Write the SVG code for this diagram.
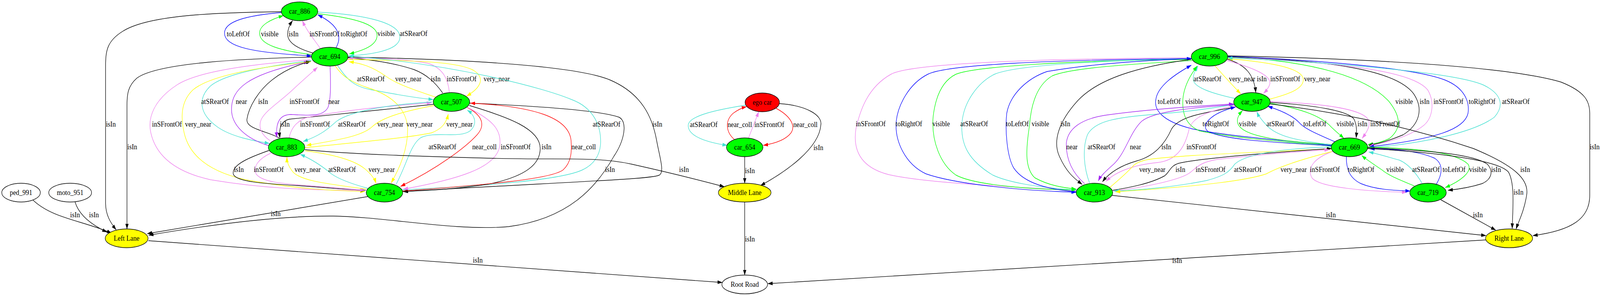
<svg xmlns="http://www.w3.org/2000/svg" width="4567" height="755" viewBox="0 0 4567 755">
<style>
text{font-family:"Liberation Serif","Times New Roman",serif;font-size:18.67px;text-anchor:middle;fill:#000}
ellipse{stroke:#000;stroke-width:1.4}
.e path{fill:none;stroke-width:1.4}
.k{stroke:#000;marker-end:url(#aK)}.b{stroke:#0000ff;marker-end:url(#aB)}.g{stroke:#00ff00;marker-end:url(#aG)}
.t{stroke:#40e0d0;marker-end:url(#aT)}.v{stroke:#ee82ee;marker-end:url(#aV)}.p{stroke:#a020f0;marker-end:url(#aP)}
.y{stroke:#ffff00;marker-end:url(#aY)}.r{stroke:#ff0000;marker-end:url(#aR)}
.car{fill:#00ff00}.lane{fill:#ffff00}.ego{fill:#ff0000}.plain{fill:#fff}
</style>
<defs>
<marker id="aK" viewBox="0 0 14 10" refX="13.5" refY="5" markerWidth="14" markerHeight="10" markerUnits="userSpaceOnUse" orient="auto"><path d="M0,0.3L14,5L0,9.7Z" fill="#000"/></marker>
<marker id="aB" viewBox="0 0 14 10" refX="13.5" refY="5" markerWidth="14" markerHeight="10" markerUnits="userSpaceOnUse" orient="auto"><path d="M0,0.3L14,5L0,9.7Z" fill="#0000ff"/></marker>
<marker id="aG" viewBox="0 0 14 10" refX="13.5" refY="5" markerWidth="14" markerHeight="10" markerUnits="userSpaceOnUse" orient="auto"><path d="M0,0.3L14,5L0,9.7Z" fill="#00ff00"/></marker>
<marker id="aT" viewBox="0 0 14 10" refX="13.5" refY="5" markerWidth="14" markerHeight="10" markerUnits="userSpaceOnUse" orient="auto"><path d="M0,0.3L14,5L0,9.7Z" fill="#40e0d0"/></marker>
<marker id="aV" viewBox="0 0 14 10" refX="13.5" refY="5" markerWidth="14" markerHeight="10" markerUnits="userSpaceOnUse" orient="auto"><path d="M0,0.3L14,5L0,9.7Z" fill="#ee82ee"/></marker>
<marker id="aP" viewBox="0 0 14 10" refX="13.5" refY="5" markerWidth="14" markerHeight="10" markerUnits="userSpaceOnUse" orient="auto"><path d="M0,0.3L14,5L0,9.7Z" fill="#a020f0"/></marker>
<marker id="aY" viewBox="0 0 14 10" refX="13.5" refY="5" markerWidth="14" markerHeight="10" markerUnits="userSpaceOnUse" orient="auto"><path d="M0,0.3L14,5L0,9.7Z" fill="#ffff00"/></marker>
<marker id="aR" viewBox="0 0 14 10" refX="13.5" refY="5" markerWidth="14" markerHeight="10" markerUnits="userSpaceOnUse" orient="auto"><path d="M0,0.3L14,5L0,9.7Z" fill="#ff0000"/></marker>
</defs>
<rect width="4567" height="755" fill="#fff"/>
<g id="graph" transform="scale(0.898,1)">
<g id="edges" class="e">
<path class="k" d="M802,30 C600,32 420,40 350,80 C305,105 301,130 301,170 L301,520 C301,550 315,570 331,588"/><text x="316" y="324">isIn</text>
<path class="k" d="M888,146 C700,150 450,160 390,200 C365,220 362,240 362,270 L362,586"/><text x="377" y="382">isIn</text>
<path class="k" d="M94,512 C150,560 240,565 318,597"/><text x="214" y="556">isIn</text>
<path class="k" d="M214,517 C225,550 260,575 305,594"/><text x="268" y="556">isIn</text>
<path class="k" d="M1049,503 L420,598"/><text x="786" y="553">isIn</text>
<path class="k" d="M1338,264 C1500,270 1700,280 1765,300 C1790,312 1780,360 1750,400 C1700,480 1620,560 1450,580 C1300,592 1100,555 950,553 C800,552 600,575 424,602"/><text x="1739" y="440">isIn</text>
<path class="k" d="M423,616 L2059,723"/><text x="1362" y="672">isIn</text>
<path class="b" d="M802,32 C700,40 640,55 640,85 C640,120 720,135 888,143"/><text x="679" y="93">toLeftOf</text>
<path class="g" d="M892,140 C800,130 740,115 740,85 C740,65 770,50 808,40"/><text x="769" y="93">visible</text>
<path class="k" d="M893,136 C850,125 820,110 820,88 C820,75 826,63 834,53"/><text x="837" y="93">isIn</text>
<path class="v" d="M913,124 C895,100 875,80 862,53"/><text x="925" y="93">inSFrontOf</text>
<path class="b" d="M958,122 C975,95 968,65 906,38"/><text x="1009" y="93">toRightOf</text>
<path class="g" d="M906,35 C1000,45 1075,60 1075,90 C1075,115 1040,128 996,138"/><text x="1101" y="92">visible</text>
<path class="t" d="M906,31 C1050,38 1140,60 1140,95 C1140,125 1080,138 996,143"/><text x="1179" y="92">atSRearOf</text>
<path class="t" d="M888,155 C750,170 640,190 600,220 C565,250 565,290 620,325 C660,350 720,360 768,367"/><text x="613" y="266">atSRearOf</text>
<path class="p" d="M767,373 C700,355 660,320 660,280 C660,230 700,190 880,158"/><text x="688" y="266">near</text>
<path class="k" d="M796,353 C760,335 700,330 704,305 C710,270 740,230 775,205 C810,180 850,165 886,157"/><text x="750" y="266">isIn</text>
<path class="v" d="M770,360 C745,345 735,325 745,305 C760,280 800,260 840,225 C870,200 890,185 905,172"/><text x="868" y="266">inSFrontOf</text>
<path class="p" d="M941,169 C942,200 945,250 935,275 C920,300 880,295 830,293 C800,293 785,310 789,352"/><text x="952" y="266">near</text>
<path class="t" d="M962,167 C990,205 1010,222 1060,230 C1120,240 1180,250 1235,255"/><text x="1057" y="208">atSRearOf</text>
<path class="y" d="M1243,249 C1180,230 1130,215 1100,195 C1060,170 1030,162 995,158"/><text x="1164" y="208">very_near</text>
<path class="k" d="M1262,238 C1240,210 1215,190 1180,178 C1120,160 1050,152 992,148"/><text x="1242" y="208">isIn</text>
<path class="v" d="M1281,237 C1278,205 1265,175 1220,162 C1150,150 1060,148 993,149"/><text x="1316" y="208">inSFrontOf</text>
<path class="y" d="M991,152 C1150,155 1300,155 1350,180 C1385,200 1370,225 1330,246"/><text x="1416" y="208">very_near</text>
<path class="v" d="M884,153 C700,165 560,185 505,217 C440,255 420,300 430,340 C445,400 500,440 600,460 C800,490 950,485 1040,488"/><text x="476" y="324">inSFrontOf</text>
<path class="y" d="M886,158 C700,175 590,200 550,230 C515,260 515,300 525,340 C540,400 600,440 700,460 C850,485 960,488 1040,490"/><text x="565" y="324">very_near</text>
<path class="y" d="M955,168 C975,195 1000,210 1050,225 C1120,245 1160,280 1162,330 C1163,380 1140,430 1115,468"/><text x="1196" y="324">very_near</text>
<path class="k" d="M992,146 C1350,152 1650,170 1740,205 C1830,240 1860,300 1872,360 C1880,400 1895,440 1880,448 C1860,458 1700,462 1148,490"/><text x="1874" y="324">isIn</text>
<path class="t" d="M1146,486 C1400,475 1600,460 1660,435 C1700,418 1710,390 1712,370 C1715,320 1690,275 1630,255 C1550,225 1300,165 993,143"/><text x="1729" y="324">atSRearOf</text>
<path class="k" d="M1338,270 C1450,300 1540,330 1540,380 C1540,420 1500,450 1400,470 C1300,485 1200,488 1150,490"/><text x="1558" y="382">isIn</text>
<path class="r" d="M1332,275 C1375,295 1385,320 1360,345 C1330,375 1250,430 1142,477"/><text x="1381" y="382">near_coll</text>
<path class="v" d="M1333,275 C1400,305 1430,330 1425,370 C1420,430 1300,460 1150,484"/><text x="1470" y="382">inSFrontOf</text>
<path class="r" d="M1146,489 C1400,472 1570,458 1605,435 C1630,415 1630,385 1628,360 C1622,300 1520,272 1341,264"/><text x="1664" y="382">near_coll</text>
<path class="t" d="M1129,472 C1160,420 1170,370 1200,352 C1240,335 1310,355 1340,335 C1362,318 1355,295 1332,282"/><text x="1261" y="382">atSRearOf</text>
<path class="k" d="M767,385 C720,400 660,420 665,445 C670,465 750,470 850,475 C950,482 1000,485 1042,487"/><text x="681" y="440">isIn</text>
<path class="v" d="M772,392 C740,405 720,425 730,445 C745,465 800,470 880,475 C950,480 1000,484 1040,487"/><text x="766" y="440">inSFrontOf</text>
<path class="y" d="M1044,484 C950,472 860,465 835,440 C822,425 818,415 818,402"/><text x="877" y="440">very_near</text>
<path class="t" d="M1049,482 C1000,470 965,458 945,445 C925,430 895,410 856,395"/><text x="975" y="440">atSRearOf</text>
<path class="y" d="M870,386 C950,395 1010,410 1040,432 C1060,447 1068,458 1072,469"/><text x="1088" y="440">very_near</text>
<path class="k" d="M1236,267 C1100,280 900,298 825,305 C800,310 795,330 798,353"/><text x="812" y="324">isIn</text>
<path class="v" d="M824,353 C830,330 840,315 870,302 C950,285 1100,272 1230,263"/><text x="898" y="324">inSFrontOf</text>
<path class="t" d="M1232,261 C1100,268 1000,285 960,310 C940,325 920,345 864,362"/><text x="1003" y="324">atSRearOf</text>
<path class="y" d="M1238,270 C1150,285 1090,300 1060,325 C1030,350 950,360 874,372"/><text x="1113" y="324">very_near</text>
<path class="y" d="M870,378 C1000,365 1150,355 1230,340 C1260,330 1272,315 1278,292"/><text x="1310" y="324">very_near</text>
<path class="k" d="M869,383 C1000,395 1200,400 1400,405 C1600,410 1700,400 1800,420 C1900,440 1990,460 2065,478"/><text x="1950" y="440">isIn</text>
<path class="t" d="M2126,269 C2050,280 1965,295 1962,320 C1960,350 2020,365 2073,372"/><text x="2006" y="325">atSRearOf</text>
<path class="r" d="M2095,358 C2070,340 2065,310 2090,290 C2105,280 2115,276 2128,273"/><text x="2109" y="325">near_coll</text>
<path class="v" d="M2133,355 L2163,286"/><text x="2193" y="325">inSFrontOf</text>
<path class="r" d="M2212,277 C2250,295 2270,320 2255,340 C2240,358 2210,367 2176,372"/><text x="2296" y="325">near_coll</text>
<path class="k" d="M2221,265 C2300,270 2345,295 2340,320 C2335,380 2240,440 2168,475"/><text x="2333" y="384">isIn</text>
<path class="k" d="M2123,401 L2123,469"/><text x="2138" y="443">isIn</text>
<path class="k" d="M2123,517 L2123,704"/><text x="2138" y="618">isIn</text>
<path class="k" d="M4236,614 L2189,726"/><text x="3356" y="673">isIn</text>
<path class="v" d="M3396,148 C3000,150 2600,160 2540,190 C2470,225 2450,290 2440,330 C2430,390 2460,430 2534,447 C2650,470 2900,478 3068,488"/><text x="2482" y="323">inSFrontOf</text>
<path class="b" d="M3396,150 C3000,153 2700,165 2645,190 C2590,215 2560,270 2555,310 C2550,360 2580,420 2640,445 C2720,470 2900,488 3068,492"/><text x="2591" y="323">toRightOf</text>
<path class="g" d="M3396,152 C3050,155 2780,170 2725,190 C2680,210 2665,260 2660,300 C2655,360 2680,420 2725,448 C2780,475 2950,485 3068,486"/><text x="2683" y="323">visible</text>
<path class="t" d="M3069,486 C2950,480 2870,465 2830,448 C2760,410 2740,370 2742,320 C2745,260 2790,210 2835,190 C2900,165 3150,155 3397,150"/><text x="2777" y="323">atSRearOf</text>
<path class="b" d="M3070,491 C2990,485 2920,470 2890,430 C2870,400 2865,330 2870,290 C2880,240 2930,200 2985,183 C3100,165 3250,155 3397,150"/><text x="2900" y="323">toLeftOf</text>
<path class="g" d="M3398,155 C3200,165 3050,175 3000,194 C2960,215 2940,260 2935,320 C2925,380 2920,430 2950,455 C2990,475 3030,480 3068,484"/><text x="2966" y="323">visible</text>
<path class="k" d="M3395,152 C3250,170 3130,200 3070,260 C3020,310 3000,360 3020,400 C3040,440 3060,455 3085,472"/><text x="3037" y="323">isIn</text>
<path class="t" d="M3521,252 C3460,240 3405,225 3402,205 C3400,190 3408,180 3415,169"/><text x="3442" y="208">atSRearOf</text>
<path class="y" d="M3463,168 C3490,195 3515,220 3537,240"/><text x="3541" y="208">very_near</text>
<path class="k" d="M3497,151 C3550,165 3575,190 3580,237"/><text x="3597" y="208">isIn</text>
<path class="v" d="M3498,155 C3580,175 3625,195 3620,215 C3617,225 3610,232 3602,239"/><text x="3664" y="208">inSFrontOf</text>
<path class="y" d="M3619,254 C3680,240 3720,225 3715,200 C3705,170 3600,158 3501,150"/><text x="3755" y="208">very_near</text>
<path class="b" d="M3797,372 C3600,355 3480,345 3400,330 C3310,310 3290,280 3295,255 C3300,220 3350,190 3396,167"/><text x="3333" y="266">toLeftOf</text>
<path class="g" d="M3797,374 C3620,360 3500,350 3420,335 C3380,320 3370,290 3372,255 C3375,220 3395,190 3413,169"/><text x="3404" y="266">visible</text>
<path class="t" d="M3106,468 C3090,430 3085,380 3100,345 C3120,310 3180,300 3300,292 C3400,285 3470,275 3519,267"/><text x="3140" y="382">atSRearOf</text>
<path class="p" d="M3092,470 C3060,445 3038,410 3040,365 C3045,330 3080,305 3150,295 C3250,282 3400,272 3517,266"/><text x="3056" y="382">near</text>
<path class="p" d="M3519,268 C3400,275 3290,285 3255,310 C3220,340 3210,390 3175,420 C3150,440 3138,450 3131,463"/><text x="3237" y="382">near</text>
<path class="k" d="M3522,274 C3420,290 3360,300 3340,330 C3320,370 3290,400 3240,412 C3190,425 3160,445 3143,465"/><text x="3325" y="382">isIn</text>
<path class="v" d="M3522,270 C3440,285 3400,300 3390,330 C3380,370 3360,410 3300,416 C3230,422 3180,440 3153,464"/><text x="3425" y="382">inSFrontOf</text>
<path class="b" d="M3795,373 C3650,365 3500,360 3445,337 C3420,322 3450,290 3522,274"/><text x="3466" y="323">toRightOf</text>
<path class="g" d="M3798,370 C3650,362 3560,350 3535,325 C3520,310 3530,295 3542,283"/><text x="3557" y="323">visible</text>
<path class="t" d="M3799,371 C3700,360 3640,350 3610,320 C3595,305 3588,297 3583,286"/><text x="3650" y="323">atSRearOf</text>
<path class="b" d="M3806,363 C3760,345 3720,330 3705,315 C3690,300 3660,285 3614,272"/><text x="3748" y="323">toLeftOf</text>
<path class="g" d="M3620,264 C3720,280 3770,300 3795,325 C3810,338 3820,345 3831,354"/><text x="3835" y="323">visible</text>
<path class="k" d="M3620,262 C3760,270 3845,285 3860,305 C3868,320 3868,335 3866,353"/><text x="3884" y="323">isIn</text>
<path class="v" d="M3620,260 C3780,265 3880,280 3900,305 C3910,320 3895,340 3883,354"/><text x="3949" y="323">inSFrontOf</text>
<path class="g" d="M3499,146 C3750,155 3900,200 3960,260 C3995,300 3995,330 3960,355 C3935,365 3920,368 3900,370"/><text x="4003" y="266">visible</text>
<path class="k" d="M3500,145 C3800,155 3980,180 4030,240 C4060,280 4045,320 4000,345 C3960,360 3930,368 3902,372"/><text x="4061" y="266">isIn</text>
<path class="v" d="M3500,147 C3850,160 4030,185 4070,230 C4090,260 4085,300 4060,320 C4020,350 3950,365 3903,374"/><text x="4129" y="266">inSFrontOf</text>
<path class="b" d="M3500,144 C3850,158 4050,180 4120,205 C4175,225 4190,260 4185,290 C4175,330 4100,355 3903,376"/><text x="4225" y="266">toRightOf</text>
<path class="t" d="M3905,378 C4050,368 4200,340 4260,300 C4290,270 4280,240 4230,218 C4150,185 3800,160 3500,148"/><text x="4321" y="266">atSRearOf</text>
<path class="k" d="M3500,143 C3900,150 4300,170 4450,210 C4520,235 4532,260 4532,290 L4532,500 C4532,560 4480,590 4370,603"/><text x="4546" y="382">isIn</text>
<path class="v" d="M3800,387 C3745,405 3725,430 3740,455 C3760,480 3900,490 4010,492"/><text x="3777" y="440">inSFrontOf</text>
<path class="b" d="M3838,401 C3838,430 3845,455 3880,470 C3920,485 3970,487 4020,489"/><text x="3880" y="440">toRightOf</text>
<path class="g" d="M4032,476 C3990,460 3960,450 3940,435 C3915,420 3895,408 3882,398"/><text x="3977" y="440">visible</text>
<path class="t" d="M4054,469 C4035,440 4015,420 3990,410 C3950,400 3925,393 3902,389"/><text x="4065" y="440">atSRearOf</text>
<path class="b" d="M4095,471 C4112,445 4115,420 4090,405 C4040,385 3960,380 3905,381"/><text x="4145" y="440">toLeftOf</text>
<path class="g" d="M3897,376 C4050,380 4150,390 4185,420 C4200,440 4160,465 4120,480"/><text x="4213" y="440">visible</text>
<path class="k" d="M3897,378 C4080,385 4200,395 4240,420 C4260,440 4250,460 4225,470 C4190,480 4150,485 4128,487"/><text x="4265" y="440">isIn</text>
<path class="k" d="M3897,380 C4100,390 4270,410 4300,440 C4320,470 4312,540 4311,585"/><text x="4329" y="498">isIn</text>
<path class="k" d="M3620,266 C3800,285 4000,320 4200,380 C4320,425 4360,460 4352,500 C4345,540 4330,565 4322,586"/><text x="4348" y="440">isIn</text>
<path class="k" d="M4107,511 L4264,589"/><text x="4213" y="556">isIn</text>
<path class="k" d="M3170,500 L4236,603"/><text x="3794" y="556">isIn</text>
<path class="y" d="M3157,485 C3190,460 3215,440 3230,425 C3250,405 3300,405 3400,398 C3550,390 3700,385 3795,381"/><text x="3285" y="440">very_near</text>
<path class="k" d="M3172,487 C3220,480 3280,470 3320,450 C3335,440 3335,425 3360,418 C3420,405 3600,392 3796,380"/><text x="3365" y="440">isIn</text>
<path class="v" d="M3173,489 C3260,480 3370,460 3395,440 C3415,425 3425,415 3470,408 C3600,395 3700,388 3789,383"/><text x="3451" y="440">inSFrontOf</text>
<path class="t" d="M3797,376 C3650,380 3550,395 3520,420 C3505,440 3490,450 3440,462 C3350,478 3250,487 3176,489"/><text x="3557" y="440">atSRearOf</text>
<path class="y" d="M3797,388 C3700,410 3640,430 3610,445 C3560,460 3450,475 3180,491"/><text x="3688" y="440">very_near</text>
</g>
<g id="car_886"><ellipse class="car" cx="854" cy="29" rx="52" ry="24"/><text x="854" y="35">car_886</text></g>
<g id="car_694"><ellipse class="car" cx="940" cy="145" rx="52" ry="24"/><text x="940" y="151">car_694</text></g>
<g id="car_507"><ellipse class="car" cx="1287" cy="261" rx="52" ry="24"/><text x="1287" y="267">car_507</text></g>
<g id="car_883"><ellipse class="car" cx="817" cy="377" rx="52" ry="24"/><text x="817" y="383">car_883</text></g>
<g id="car_754"><ellipse class="car" cx="1096" cy="493" rx="52" ry="24"/><text x="1096" y="499">car_754</text></g>
<g id="ped_991"><ellipse class="plain" cx="60" cy="493" rx="55" ry="24"/><text x="60" y="499">ped_991</text></g>
<g id="moto_951"><ellipse class="plain" cx="200" cy="493" rx="61" ry="24"/><text x="200" y="499">moto_951</text></g>
<g id="left_lane"><ellipse class="lane" cx="361" cy="610" rx="61" ry="24"/><text x="361" y="616">Left Lane</text></g>
<g id="ego_car"><ellipse class="ego" cx="2173" cy="262" rx="49" ry="24"/><text x="2173" y="268">ego car</text></g>
<g id="car_654"><ellipse class="car" cx="2123" cy="377" rx="52" ry="24"/><text x="2123" y="383">car_654</text></g>
<g id="middle_lane"><ellipse class="lane" cx="2123" cy="493" rx="75" ry="24"/><text x="2123" y="499">Middle Lane</text></g>
<g id="root_road"><ellipse class="plain" cx="2123" cy="728" rx="65" ry="24"/><text x="2123" y="734">Root Road</text></g>
<g id="car_996"><ellipse class="car" cx="3448" cy="145" rx="52" ry="24"/><text x="3448" y="151">car_996</text></g>
<g id="car_947"><ellipse class="car" cx="3569" cy="261" rx="52" ry="24"/><text x="3569" y="267">car_947</text></g>
<g id="car_669"><ellipse class="car" cx="3847" cy="377" rx="52" ry="24"/><text x="3847" y="383">car_669</text></g>
<g id="car_913"><ellipse class="car" cx="3120" cy="493" rx="52" ry="24"/><text x="3120" y="499">car_913</text></g>
<g id="car_719"><ellipse class="car" cx="4071" cy="493" rx="52" ry="24"/><text x="4071" y="499">car_719</text></g>
<g id="right_lane"><ellipse class="lane" cx="4302" cy="610" rx="67" ry="24"/><text x="4302" y="616">Right Lane</text></g>
</g>
</svg>
